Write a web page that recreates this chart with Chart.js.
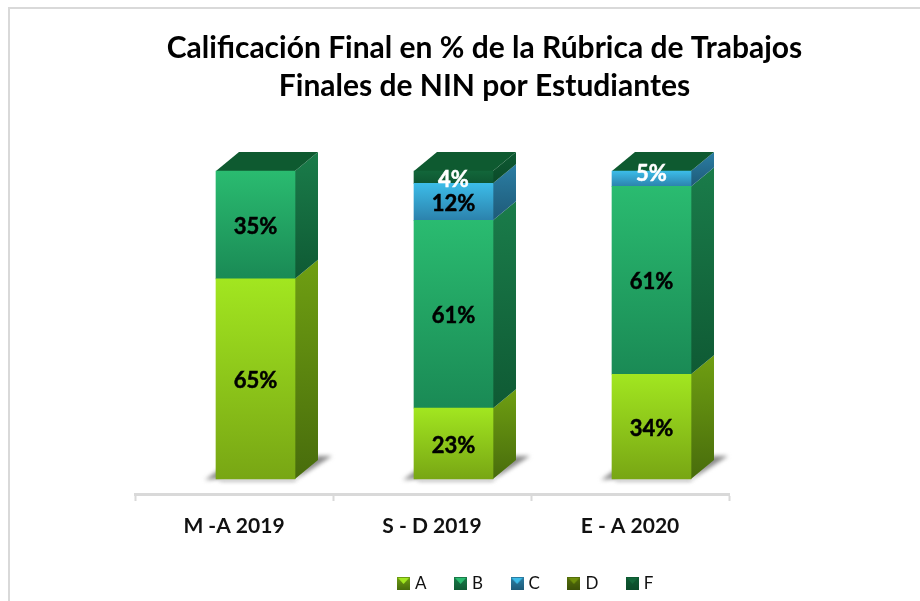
<!DOCTYPE html>
<html>
<head>
<meta charset="utf-8">
<style>
html,body{margin:0;padding:0;background:#fff;overflow:hidden}
#frame{position:absolute;left:8px;top:7px;right:0;bottom:0;border-left:2px solid #d9d9d9;border-top:2px solid #d9d9d9}
#wrap{position:absolute;left:0;top:0;width:920px;height:601px}
</style>
<script src="https://cdn.jsdelivr.net/npm/chart.js@4"></script>
</head>
<body>
<div id="frame"></div>
<div id="wrap"><canvas id="c" width="920" height="601"></canvas></div>
<script>
const categories = ['M -A 2019', 'S - D 2019', 'E - A 2020'];
const seriesNames = ['A', 'B', 'C', 'D', 'F'];
const valuesA = [65, 23, 34];
const valuesB = [35, 61, 61];
const valuesC = [0, 12, 5];
const valuesD = [0, 0, 0];
const valuesF = [0, 4, 0];
const allValues = [valuesA, valuesB, valuesC, valuesD, valuesF];

const frontTop = ['#a2e620', '#2abb70', '#3cbce8', '#6f8f0c', '#12663a'];
const frontBot = ['#78a614', '#1a8a55', '#2c82ac', '#4e650a', '#0e5631'];
const sideTop  = ['#6f9f12', '#1a7c4a', '#2b7ea4', '#55700a', '#0e5a32'];
const sideBot  = ['#486c0c', '#0f5a34', '#1e5a78', '#3c5008', '#0b4a29'];
const topColor = '#0e5a30';
const whiteLabelValues = [4, 5];

const BAR_SHIFT = 21.5, DX = 23, DY = 19;
const FONT = 'Lato, Carlito, "Open Sans", sans-serif';

function swatch(i) {
  const s = document.createElement('canvas'); s.width = 13; s.height = 13;
  const g = s.getContext('2d');
  const lg = g.createLinearGradient(0, 0, 0, 13);
  lg.addColorStop(0, sideTop[i]); lg.addColorStop(1, sideBot[i]);
  g.fillStyle = lg; g.fillRect(0, 0, 13, 13);
  g.fillStyle = frontTop[i];
  g.beginPath(); g.moveTo(1, 1); g.lineTo(12, 1); g.lineTo(6.5, 7); g.closePath(); g.fill();
  return s;
}
const swatches = seriesNames.map((_, i) => swatch(i));

function stackEdges(chart, d, i) {
  const y = chart.scales.y;
  let base = 0;
  for (let k = 0; k < d; k++) base += allValues[k][i];
  return [y.getPixelForValue(base + allValues[d][i]), y.getPixelForValue(base)];
}

const threeD = {
  id: 'threeD',
  afterLayout(chart) {
    const t = chart.titleBlock, l = chart.legend;
    t.left = 134; t.right = 835;
    l.left += 95; l.right += 95; l.top += 1; l.bottom += 1;
  },
  beforeDatasetsDraw(chart) {
    const ctx = chart.ctx;
    const bars = chart.getDatasetMeta(0).data;
    ctx.save();
    bars.forEach((b, i) => {
      const x0 = b.x + BAR_SHIFT - b.width / 2, x1 = x0 + b.width;
      const yb = chart.scales.y.getPixelForValue(0);
      ctx.save();
      ctx.filter = 'blur(2px)';
      ctx.fillStyle = '#8a8a8a';
      ctx.beginPath();
      ctx.moveTo(x1 - 2, yb + 2); ctx.lineTo(x1 + DX + 14, yb - DY - 4);
      ctx.lineTo(x1 + DX - 2, yb - DY - 4); ctx.closePath(); ctx.fill();
      ctx.beginPath();
      ctx.moveTo(x0 - 11, yb + 1); ctx.lineTo(x0 + 4, yb - 10); ctx.lineTo(x0 + 4, yb + 2);
      ctx.lineTo(x1, yb + 2); ctx.lineTo(x1, yb); ctx.lineTo(x0, yb); ctx.closePath(); ctx.fill();
      ctx.restore();
      allValues.forEach((vals, d) => {
        if (!vals[i]) return;
        const [t, bt] = stackEdges(chart, d, i);
        const g = ctx.createLinearGradient(0, t - DY, 0, bt);
        g.addColorStop(0, sideTop[d]); g.addColorStop(1, sideBot[d]);
        ctx.fillStyle = g;
        ctx.beginPath();
        ctx.moveTo(x1, bt); ctx.lineTo(x1 + DX, bt - DY);
        ctx.lineTo(x1 + DX, t - DY); ctx.lineTo(x1, t); ctx.closePath(); ctx.fill();
      });
      const top = chart.scales.y.getPixelForValue(100);
      ctx.fillStyle = topColor;
      ctx.beginPath();
      ctx.moveTo(x0, top); ctx.lineTo(x0 + DX, top - DY);
      ctx.lineTo(x1 + DX, top - DY); ctx.lineTo(x1, top); ctx.closePath(); ctx.fill();
    });
    ctx.restore();
    ctx.save();
    ctx.translate(BAR_SHIFT, 0);
  },
  afterDatasetsDraw(chart) {
    const ctx = chart.ctx;
    ctx.restore();
    ctx.save();
    ctx.font = 'bold 22px ' + FONT;
    ctx.textAlign = 'center';
    ctx.textBaseline = 'middle';
    ctx.lineWidth = 0.5;
    allValues.forEach((vals, d) => {
      chart.getDatasetMeta(d).data.forEach((b, i) => {
        const v = vals[i];
        if (!v) return;
        const [t, bt] = stackEdges(chart, d, i);
        const c = whiteLabelValues.includes(v) ? '#ffffff' : '#000000';
        ctx.fillStyle = c; ctx.strokeStyle = c;
        const nudge = v === 5 ? -5 : (v === 4 ? 3 : 2);
        const lx = b.x + BAR_SHIFT, ly = (t + bt) / 2 + nudge;
        ctx.fillText(v + '%', lx, ly);
        ctx.strokeText(v + '%', lx, ly);
      });
    });
    ctx.restore();
  }
};

new Chart(document.getElementById('c'), {
  type: 'bar',
  plugins: [threeD],
  data: {
    labels: categories,
    datasets: seriesNames.map((name, d) => ({
      label: name,
      data: allValues[d],
      barThickness: 79,
      borderWidth: 0,
      clip: false,
      backgroundColor(ctx) {
        const chart = ctx.chart;
        if (!chart.chartArea || ctx.dataIndex === undefined) return frontTop[d];
        const [t, b] = stackEdges(chart, d, ctx.dataIndex);
        const g = chart.ctx.createLinearGradient(0, t, 0, b);
        g.addColorStop(0, frontTop[d]); g.addColorStop(1, frontBot[d]);
        return g;
      }
    }))
  },
  options: {
    responsive: false,
    animation: false,
    layout: { padding: { left: 135, right: 191, top: 0, bottom: 0 } },
    scales: {
      x: {
        stacked: true,
        afterFit(s) { s.height = 49; },
        border: { color: '#d9d9d9', width: 3 },
        grid: { display: true, drawOnChartArea: false, drawTicks: true, tickLength: 7, tickColor: '#d9d9d9', tickWidth: 2, offset: true },
        ticks: { color: '#111', font: { family: FONT, size: 21, weight: 'bold' }, padding: 13, maxRotation: 0 }
      },
      y: { stacked: true, display: false, min: -4.87, max: 115.26 }
    },
    plugins: {
      tooltip: { enabled: false },
      title: {
        display: true,
        text: ['Calificación Final en % de la Rúbrica de Trabajos', 'Finales de NIN por Estudiantes'],
        color: '#000',
        font: { family: FONT, size: 30, weight: 'bold', lineHeight: 1.267 },
        padding: { top: 29, bottom: 19 }
      },
      legend: {
        position: 'bottom',
        labels: {
          color: '#111',
          font: { family: FONT, size: 17 },
          usePointStyle: true,
          pointStyleWidth: 6,
          padding: 31,
          generateLabels(chart) {
            return Chart.defaults.plugins.legend.labels.generateLabels(chart).map((it, i) => Object.assign(it, { pointStyle: swatches[i], hidden: false }));
          }
        }
      }
    }
  }
});
</script>
</body>
</html>
